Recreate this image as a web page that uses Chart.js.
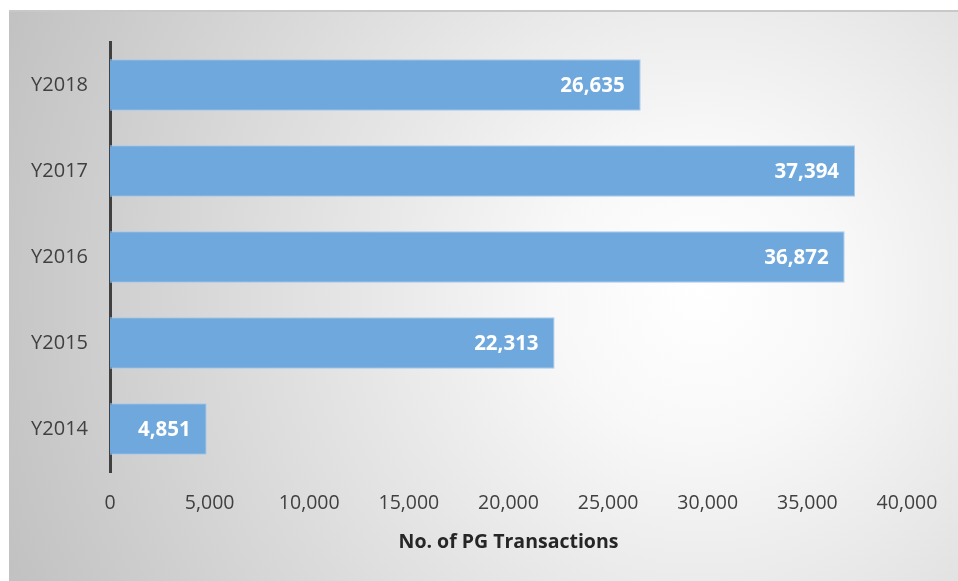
<!DOCTYPE html>
<html><head><meta charset="utf-8">
<script src="https://cdn.jsdelivr.net/npm/chart.js@4"></script>
<style>html,body{margin:0;padding:0;background:#fff}#wrap{width:958px;height:581px}</style>
</head><body><div id="wrap"><canvas id="c" width="958" height="581"></canvas></div>
<script>
const categories = ["Y2018", "Y2017", "Y2016", "Y2015", "Y2014"];
const transactions = [26635, 37394, 36872, 22313, 4851];
const xTicks = [0, 5000, 10000, 15000, 20000, 25000, 30000, 35000, 40000];
const axisTitle = "No. of PG Transactions";
const FONT = "'Open Sans', 'Noto Sans', sans-serif";

const bgPlugin = {
  id: 'bg',
  beforeDraw(chart) {
    const ctx = chart.ctx;
    const x0 = 9, y0 = 10, w = chart.width - x0, h = chart.height - y0;
    const g = ctx.createRadialGradient(700, 290, 0, 700, 290, 740);
    g.addColorStop(0, '#ffffff');
    g.addColorStop(0.2, '#f8f8f8');
    g.addColorStop(1, '#c2c2c2');
    ctx.save();
    ctx.fillStyle = '#ffffff';
    ctx.fillRect(0, 0, chart.width, chart.height);
    ctx.fillStyle = g;
    ctx.fillRect(x0, y0, w, h);
    ctx.strokeStyle = '#c8c8c8';
    ctx.lineWidth = 2;
    ctx.beginPath();
    ctx.moveTo(x0, y0 + 1); ctx.lineTo(chart.width, y0 + 1);
    ctx.stroke();
    ctx.restore();
  }
};

const labelPlugin = {
  id: 'vlabels',
  afterDatasetsDraw(chart) {
    const ctx = chart.ctx;
    const meta = chart.getDatasetMeta(0);
    ctx.save();
    ctx.fillStyle = '#ffffff';
    ctx.font = "bold 20.5px " + FONT;
    ctx.textAlign = 'right';
    ctx.textBaseline = 'middle';
    meta.data.forEach((bar, i) => {
      const v = chart.data.datasets[0].data[i];
      ctx.fillText(v.toLocaleString('en-US'), bar.x - 16, bar.y + 1);
    });
    ctx.restore();
  }
};

new Chart(document.getElementById('c'), {
  type: 'bar',
  data: {
    labels: categories,
    datasets: [{
      data: transactions,
      backgroundColor: '#6fa8dc',
      borderColor: '#a9cbeb',
      borderWidth: 1,
      borderSkipped: 'start',
      barPercentage: 0.6,
      categoryPercentage: 1
    }]
  },
  options: {
    indexAxis: 'y',
    responsive: false,
    animation: false,
    devicePixelRatio: 1,
    layout: { padding: { left: 9, top: 42, right: 51, bottom: 10 } },
    plugins: { legend: { display: false }, tooltip: { enabled: false } },
    scales: {
      x: {
        min: 0, max: 40000,
        afterBuildTicks(s) { s.ticks = xTicks.map(v => ({ value: v })); },
        afterFit(s) { s.height = 99; },
        grid: { display: false, drawTicks: false },
        border: { display: false },
        ticks: {
          color: '#404040', font: { family: FONT, size: 19.5 }, padding: 20,
          callback: v => Number(v).toLocaleString('en-US')
        },
        title: {
          display: true, text: axisTitle, color: '#262626',
          font: { family: FONT, size: 19.5, weight: 'bold' }, padding: { top: 6, bottom: 17 }
        }
      },
      y: {
        afterFit(s) { s.width = 101; },
        grid: { display: false, drawTicks: false },
        border: { display: true, color: '#404040', width: 3 },
        ticks: { color: '#404040', font: { family: FONT, size: 20 }, padding: 22 }
      }
    }
  },
  plugins: [bgPlugin, labelPlugin]
});
</script>
</body></html>
